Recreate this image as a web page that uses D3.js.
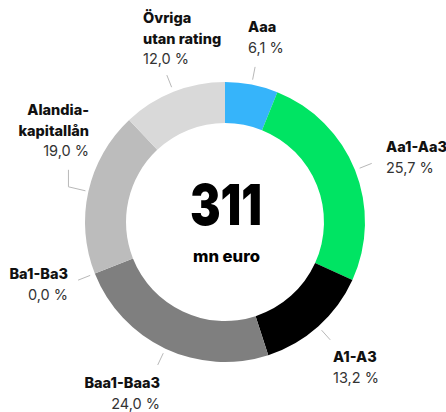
<!DOCTYPE html>
<html>
<head>
<meta charset="utf-8">
<script src="https://cdn.jsdelivr.net/npm/d3@7"></script>
<style>
  html, body { margin: 0; padding: 0; background: #fff; }
  svg { display: block; font-family: Inter, "Noto Sans", sans-serif; }
</style>
</head>
<body>
<svg id="chart" width="446" height="412"></svg>
<script>
// ---- data ----
const categories = ["Aaa", "Aa1-Aa3", "A1-A3", "Baa1-Baa3", "Ba1-Ba3", "Alandia-\nkapitallån", "Övriga\nutan rating"];
const values = [6.1, 25.7, 13.2, 24.0, 0.0, 19.0, 12.0];
const colors = ["#36b4fa", "#00e463", "#000000", "#7f7f7f", "#6e6e6e", "#bcbcbc", "#d9d9d9"];
const totalValue = "311";
const totalUnit = "mn euro";

// ---- layout (label anchors) ----
const labelLayout = [
  { anchor: "start", x: 248, y: 32 },
  { anchor: "start", x: 386, y: 152 },
  { anchor: "start", x: 333, y: 362 },
  { anchor: "end",   x: 160, y: 388 },
  { anchor: "end",   x: 68,  y: 279 },
  { anchor: "end",   x: 89,  y: 115, elbow: true },
  { anchor: "start", x: 143, y: 23 }
];

const svg = d3.select("#chart");
const cx = 225, cy = 222, rOuter = 140, rInner = 99;
const g = svg.append("g").attr("transform", `translate(${cx},${cy})`);

const data = categories.map((c, i) => ({ name: c, value: values[i], color: colors[i], layout: labelLayout[i] }));

const pie = d3.pie().value(d => d.value).sort(null);
const arcs = pie(data);
const arc = d3.arc().innerRadius(rInner).outerRadius(rOuter);

g.selectAll("path.slice")
  .data(arcs)
  .join("path")
  .attr("class", "slice")
  .attr("d", arc)
  .attr("fill", d => d.data.color);

const locale = d3.formatLocale({ decimal: ",", thousands: " ", grouping: [3], currency: ["", " €"] });
const fmt = locale.format(".1f");

function pointAt(angle, r) {
  return [r * Math.sin(angle), -r * Math.cos(angle)];
}

// leader lines
const line = d3.line();
arcs.forEach(a => {
  const mid = (a.startAngle + a.endAngle) / 2;
  let pts;
  if (a.data.layout.elbow) {
    const p0 = pointAt(mid, 143);
    const p1 = [p0[0] - 17, p0[1] - 4];
    const p2 = [p1[0], p1[1] - 17];
    pts = [p0, p1, p2];
  } else {
    pts = [pointAt(mid, 145), pointAt(mid, 158)];
  }
  g.append("path")
    .attr("d", line(pts))
    .attr("fill", "none")
    .attr("stroke", "#b8b8b8")
    .attr("stroke-width", 1);
});

// labels
const lh = 20.5;
data.forEach(d => {
  const L = d.layout;
  const t = svg.append("text")
    .attr("text-anchor", L.anchor)
    .attr("font-size", 14.5);
  const lines = d.name.split("\n");
  lines.forEach((ln, i) => {
    t.append("tspan")
      .attr("x", L.x)
      .attr("y", L.y + i * lh)
      .attr("font-weight", 800)
      .attr("fill", "#111")
      .text(ln);
  });
  t.append("tspan")
    .attr("x", L.x)
    .attr("y", L.y + lines.length * lh)
    .attr("font-weight", 400)
    .attr("fill", "#333")
    .text(fmt(d.value) + " %");
});

// center text
g.append("text")
  .attr("text-anchor", "middle")
  .attr("x", 1)
  .attr("y", 3)
  .attr("font-size", 56)
  .attr("font-weight", 900)
  .attr("textLength", 72)
  .attr("lengthAdjust", "spacingAndGlyphs")
  .attr("fill", "#000")
  .text(totalValue);

g.append("text")
  .attr("text-anchor", "middle")
  .attr("x", 1.5)
  .attr("y", 40)
  .attr("font-size", 15.5)
  .attr("font-weight", 800)
  .attr("textLength", 67)
  .attr("lengthAdjust", "spacingAndGlyphs")
  .attr("fill", "#000")
  .text(totalUnit);
</script>
</body>
</html>
